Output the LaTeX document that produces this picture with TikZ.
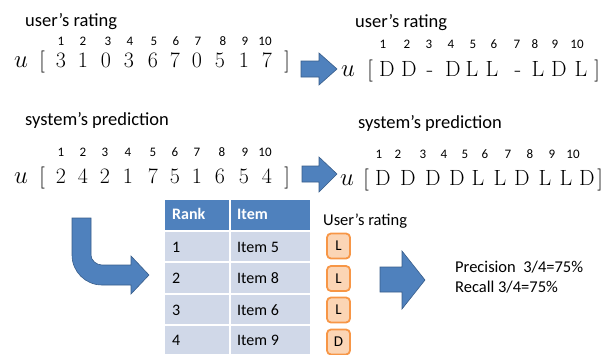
\documentclass[tikz,border=0pt]{standalone}
\usepackage{fontspec}
\newfontfamily\carl{Carlito}
\definecolor{arrblue}{HTML}{4F81BD}
\definecolor{arredge}{HTML}{385D8A}
\definecolor{rowfill}{HTML}{D0D8E8}
\definecolor{boxedge}{HTML}{F79646}
\definecolor{boxfill}{HTML}{FBD5B5}
\tikzset{
  lbl/.style={font=\carl\fontsize{18.5}{20}\selectfont, anchor=base west, inner sep=0pt},
  idx/.style={font=\carl\fontsize{13}{14}\selectfont, anchor=base, inner sep=0pt},
  val/.style={font=\fontsize{22}{24}\selectfont, anchor=base, inner sep=0pt},
  uval/.style={font=\fontsize{27}{28}\selectfont, anchor=base, inner sep=0pt},
  blockarrow/.style={fill=arrblue, draw=arredge, line width=0.6pt, line join=miter},
  cell/.style={font=\carl\fontsize{16}{18}\selectfont, anchor=base west, inner sep=0pt},
  hcell/.style={cell, font=\carl\bfseries\fontsize{16}{18}\selectfont, text=white},
  rbox/.style={draw=boxedge, fill=boxfill, line width=1.8pt, rounded corners=4pt,
    minimum width=23pt, minimum height=25pt, inner sep=0pt, font=\carl\fontsize{15}{16}\selectfont},
  res/.style={font=\carl\fontsize{16.5}{18}\selectfont, anchor=base west, inner sep=0pt}
}
\begin{document}
\begin{tikzpicture}[x=1pt,y=-1pt]
\useasboundingbox (0,0) rectangle (610,354);

% ---------- row 1 left ----------
\node[lbl] (lab1) at (25,26) {user’s rating};
\foreach \x [count=\i] in {61,83,108,130,154,176,198,223,245,265}
  \node[idx] (ia\i) at (\x,45) {\i};
\node[uval] (ua) at (21,67) {$u$};
\node[val] (oba) at (42,67) {[};
\foreach \x/\t [count=\i] in {61/3,83/1,106/0,129/3,153/6,175/7,197/0,220/5,244/1,267/7}
  \node[val] (va\i) at (\x,67) {\t};
\node[val] (cba) at (287,67) {]};

% ---------- row 1 right ----------
\node[lbl] (lab2) at (355,27) {user’s rating};
\foreach \x [count=\i] in {383,407,429,451,473,494,517,535,555,577}
  \node[idx] (ib\i) at (\x,48) {\i};
\node[uval] (ub) at (348,76) {$u$};
\node[val] (obb) at (370,76) {[};
\foreach \x/\t [count=\i] in {387/D,409/D,430/-,453/D,472/L,492/L,518/-,538/L,559/D,581/L}
  \node[val] (vb\i) at (\x,76) {\t};
\node[val] (cbb) at (597,76) {]};

% ---------- row 2 left ----------
\node[lbl] (lab3) at (25,125) {system’s prediction};
\foreach \x [count=\i] in {61,83,105,128,153,175,197,222,245,265}
  \node[idx] (ic\i) at (\x,156) {\i};
\node[uval] (uc) at (21,183) {$u$};
\node[val] (obc) at (42,183) {[};
\foreach \x/\t [count=\i] in {61/2,83/4,105/2,128/1,153/7,175/5,197/1,220/6,244/5,267/4}
  \node[val] (vc\i) at (\x,183) {\t};
\node[val] (cbc) at (287,183) {]};

% ---------- row 2 right ----------
\node[lbl] (lab4) at (358,128) {system’s prediction};
\foreach \x [count=\i] in {379,398,423,444,465,485,508,530,552,573}
  \node[idx] (id\i) at (\x,158) {\i};
\node[uval] (ud) at (347,185) {$u$};
\node[val] (obd) at (366,185) {[};
\foreach \x/\t [count=\i] in {383/D,408/D,433/D,457/D,478/L,500/L,522/D,545/L,566/L,587/D}
  \node[val] (vd\i) at (\x,185) {\t};
\node[val] (cbd) at (600,185) {]};

% ---------- block arrows ----------
\draw[blockarrow] (301,61) -- (319,61) -- (319,53) -- (337,69) -- (319,85) -- (319,77) -- (301,77) -- cycle;
\draw[blockarrow] (302,166) -- (319,166) -- (319,157) -- (337,174) -- (319,192) -- (319,182) -- (302,182) -- cycle;
\draw[blockarrow] (380,267) -- (402,267) -- (402,251) -- (425,280) -- (402,309) -- (402,292) -- (380,292) -- cycle;
% bent arrow
\draw[blockarrow] (72,218) -- (91,218) -- (91,255)
  .. controls (91,260.5) and (96.5,265) .. (102,265)
  -- (131,265) -- (131,256) -- (149,275) -- (131,294) -- (131,285) -- (102,285)
  .. controls (85.4,285) and (72,271.6) .. (72,255) -- cycle;

% ---------- table ----------
\fill[arrblue] (165,200) rectangle (310,231);
\fill[rowfill] (165,231) rectangle (310,354);
\draw[white, line width=1.5pt] (165,231) -- (310,231);
\draw[white, line width=1.5pt] (165,262) -- (310,262);
\draw[white, line width=1.5pt] (165,294) -- (310,294);
\draw[white, line width=1.5pt] (165,325) -- (310,325);
\draw[white, line width=1.5pt] (230,200) -- (230,354);
\node[hcell] (hrank) at (172,219) {Rank};
\node[hcell] (hitem) at (237,219) {Item};
\foreach \y/\r/\it [count=\i] in {252/1/5,283/2/8,315/3/6,345/4/9}{
  \node[cell] (r\i) at (172,\y) {\r};
  \node[cell] (t\i) at (237,\y) {Item \it};
}

% ---------- user's rating boxes ----------
\node[lbl, font=\carl\fontsize{16.5}{18}\selectfont] (lab5) at (323,225) {User’s rating};
\node[rbox] (b1) at (338.5,246) {L};
\node[rbox] (b2) at (338.5,278.5) {L};
\node[rbox] (b3) at (338.5,310) {L};
\node[rbox] (b4) at (338.5,342) {D};

% ---------- result ----------
\node[res] (prec) at (455,272) {Precision\ \ 3/4=75\%};
\node[res] (rec) at (455,292) {Recall 3/4=75\%};
\end{tikzpicture}
\end{document}
